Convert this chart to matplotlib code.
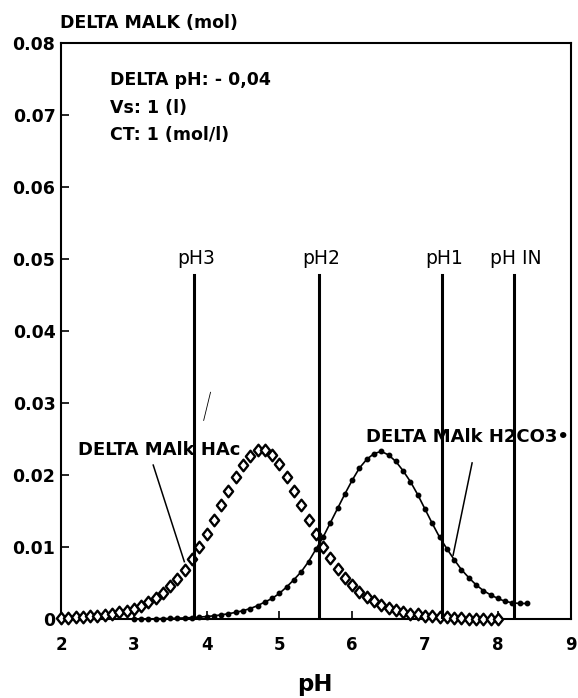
import matplotlib
matplotlib.use("Agg")
import matplotlib.pyplot as plt
from matplotlib.path import Path

plt.rcParams['font.family'] = ['DejaVu Sans']

# ---------------- data ----------------
ph_hac = [2.0, 2.1, 2.2, 2.3, 2.4, 2.5, 2.6, 2.7, 2.8, 2.9,
          3.0, 3.1, 3.2, 3.3, 3.4, 3.5, 3.6, 3.7, 3.8, 3.9,
          4.0, 4.1, 4.2, 4.3, 4.4, 4.5, 4.6, 4.7, 4.8, 4.9,
          5.0, 5.1, 5.2, 5.3, 5.4, 5.5, 5.6, 5.7, 5.8, 5.9,
          6.0, 6.1, 6.2, 6.3, 6.4, 6.5, 6.6, 6.7, 6.8, 6.9,
          7.0, 7.1, 7.2, 7.3, 7.4, 7.5, 7.6, 7.7, 7.8, 7.9, 8.0]
malk_hac = [0.0002, 0.0002, 0.0003, 0.0003, 0.0004, 0.0005, 0.0006, 0.0008, 0.0010, 0.0012,
            0.0015, 0.0019, 0.0024, 0.0030, 0.0037, 0.0046, 0.0056, 0.0069, 0.0084, 0.0100,
            0.0118, 0.0138, 0.0158, 0.0178, 0.0197, 0.0214, 0.0227, 0.0235, 0.0235, 0.0228,
            0.0215, 0.0198, 0.0178, 0.0158, 0.0138, 0.0119, 0.0101, 0.0085, 0.0070, 0.0057,
            0.0047, 0.0038, 0.0031, 0.0025, 0.0020, 0.0016, 0.0013, 0.0010, 0.0008, 0.0007,
            0.0005, 0.0004, 0.0003, 0.0003, 0.0002, 0.0002, 0.0001, 0.0001, 0.0001, 0.0001, 0.0001]

ph_h2co3 = [3.0, 3.1, 3.2, 3.3, 3.4, 3.5, 3.6, 3.7, 3.8, 3.9,
            4.0, 4.1, 4.2, 4.3, 4.4, 4.5, 4.6, 4.7, 4.8, 4.9,
            5.0, 5.1, 5.2, 5.3, 5.4, 5.5, 5.6, 5.7, 5.8, 5.9,
            6.0, 6.1, 6.2, 6.3, 6.4, 6.5, 6.6, 6.7, 6.8, 6.9,
            7.0, 7.1, 7.2, 7.3, 7.4, 7.5, 7.6, 7.7, 7.8, 7.9,
            8.0, 8.1, 8.2, 8.3, 8.4]
malk_h2co3 = [0.00004, 0.00005, 0.00006, 0.00008, 0.0001, 0.00012, 0.00016, 0.0002, 0.00025, 0.00031,
              0.00039, 0.00049, 0.00062, 0.00078, 0.00097, 0.0012, 0.0015, 0.0019, 0.0024, 0.0029,
              0.0036, 0.0045, 0.0055, 0.0066, 0.0080, 0.0097, 0.0114, 0.0134, 0.0154, 0.0174,
              0.0193, 0.0210, 0.0222, 0.0230, 0.0233, 0.0228, 0.0219, 0.0206, 0.0191, 0.0173,
              0.0153, 0.0133, 0.0114, 0.0098, 0.0083, 0.0069, 0.0058, 0.0048, 0.0040, 0.0034,
              0.0029, 0.0025, 0.0023, 0.0022, 0.0022]

marker_ph_names = ["pH3", "pH2", "pH1", "pH IN"]
marker_ph_values = [3.83, 5.54, 7.24, 8.22]
marker_line_top = 0.0478

x_ticks = [2, 3, 4, 5, 6, 7, 8, 9]
x_tick_labels = ["2", "3", "4", "5", "6", "7", "8", "9"]
y_ticks = [0, 0.01, 0.02, 0.03, 0.04, 0.05, 0.06, 0.07, 0.08]
y_tick_labels = ["0", "0.01", "0.02", "0.03", "0.04", "0.05", "0.06", "0.07", "0.08"]

info_lines = ["DELTA pH: - 0,04", "Vs: 1 (l)", "CT: 1 (mol/l)"]
y_title = "DELTA MALK (mol)"
x_title = "pH"
label_hac = "DELTA MAlk HAc"
label_h2co3 = "DELTA MAlk H2CO3\u2022"

# ---------------- figure ----------------
fig = plt.figure(figsize=(5.78, 6.98), dpi=100)
ax = fig.add_axes([0.1055, 0.1127, 0.8817, 0.8261])
ax.set_xlim(2, 9)
ax.set_ylim(0, 0.08)

for s in ax.spines.values():
    s.set_linewidth(1.5)

# tall diamond marker
diamond = Path([(-0.4, 0), (0, 0.5), (0.4, 0), (0, -0.5), (-0.4, 0)],
               [Path.MOVETO, Path.LINETO, Path.LINETO, Path.LINETO, Path.CLOSEPOLY])

ax.plot(ph_h2co3, malk_h2co3, color='black', lw=1.2, marker='o', ms=3.2,
        mfc='black', mec='black', zorder=3, clip_on=False)
ax.plot(ph_hac, malk_hac, linestyle='none', marker=diamond, ms=8.3,
        mfc='white', mec='black', mew=1.7, zorder=4, clip_on=False)

for name, xv in zip(marker_ph_names, marker_ph_values):
    ax.plot([xv, xv], [0, marker_line_top], color='black', lw=2.2, zorder=5)
    ax.text(xv + 0.03, 0.0501, name, ha='center', va='center', fontsize=13.5,
            color='black')

# annotations
ax.text(2.234, 0.0235, label_hac, ha='left', va='center', fontsize=13,
        fontweight='bold')
ax.plot([3.267, 3.694], [0.0214, 0.0080], color='black', lw=1.1, zorder=6)
ax.text(6.187, 0.0253, label_h2co3, ha='left', va='center', fontsize=13,
        fontweight='bold')
ax.plot([7.647, 7.386], [0.0217, 0.0089], color='black', lw=1.1, zorder=6)
# small stray stroke present in the original
ax.plot([4.054, 3.96], [0.0315, 0.0276], color='black', lw=0.6, zorder=2)

for i, t in enumerate(info_lines):
    ax.text(2.675, [0.0748, 0.0709, 0.0672][i], t, ha='left', va='center',
            fontsize=12.5, fontweight='bold')

ax.set_xticks(x_ticks)
ax.set_xticklabels(x_tick_labels, fontsize=12, fontweight='bold')
ax.set_yticks(y_ticks)
ax.set_yticklabels(y_tick_labels, fontsize=12.5, fontweight='bold')
ax.tick_params(axis='x', direction='in', length=6, width=1.2, pad=12)
ax.tick_params(axis='y', direction='in', length=6, width=1.2, pad=4)

fig.text(60 / 578, 1 - 23 / 698, y_title, ha='left', va='center',
         fontsize=12.5, fontweight='bold')
fig.text(315 / 578, 1 - 684 / 698, x_title, ha='center', va='center',
         fontsize=16.5, fontweight='bold')

fig.savefig("out.png", dpi=100)
